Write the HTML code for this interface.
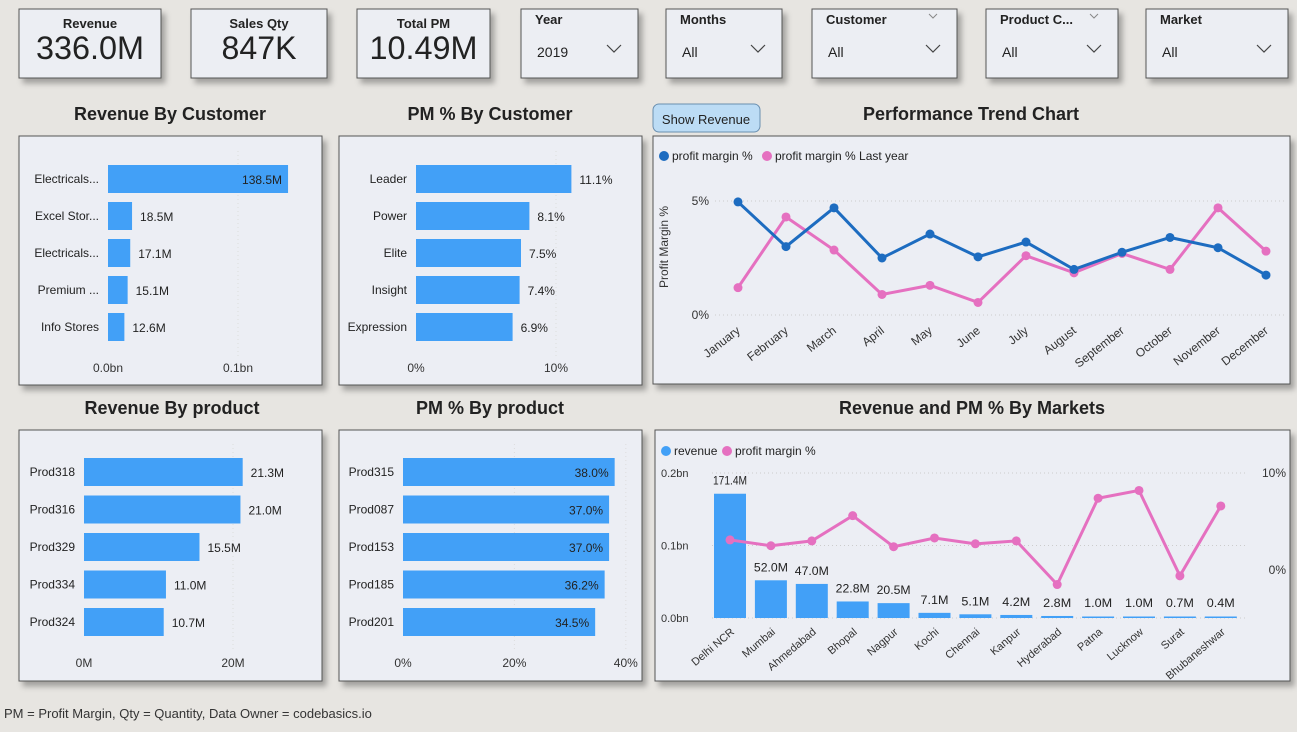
<!DOCTYPE html>
<html><head><meta charset="utf-8"><style>
html,body{margin:0;padding:0;width:1297px;height:732px;overflow:hidden;background:#e7e5e1;font-family:"Liberation Sans",sans-serif;}
svg text{font-family:"Liberation Sans",sans-serif;}
</style></head><body>
<svg id="s" width="1297" height="732" viewBox="0 0 1297 732" xmlns="http://www.w3.org/2000/svg">
<defs><filter id="sh" x="-10%" y="-10%" width="130%" height="130%"><feDropShadow dx="4" dy="5" stdDeviation="3" flood-color="#000" flood-opacity="0.3"/></filter></defs>
<g id="cards"></g>
<g id="panels"></g>
<text x="4" y="718" font-size="13" fill="#333">PM = Profit Margin, Qty = Quantity, Data Owner = codebasics.io</text>
</svg>
<script>
const NS='http://www.w3.org/2000/svg';
const S=document.getElementById('s');
function el(t,a,p,txt){const e=document.createElementNS(NS,t);for(const k in a)e.setAttribute(k,a[k]);if(txt!==undefined)e.textContent=txt;(p||S).appendChild(e);return e;}

// KPI cards
const kpiTitles=['Revenue','Sales Qty','Total PM'];
const kpiValues=['336.0M','847K','10.49M'];
const kpiX=[19,191,357],kpiW=[142,136,133];
kpiTitles.forEach((t,i)=>{
 const g=el('g',{});
 
 
 el('rect',{x:kpiX[i],y:9,width:kpiW[i],height:69,fill:'#eceef3',stroke:'#555',filter:'url(#sh)'},g);
 el('text',{x:kpiX[i]+kpiW[i]/2,y:28,'text-anchor':'middle','font-size':13,'font-weight':'bold',fill:'#222'},g,t);
 el('text',{x:kpiX[i]+kpiW[i]/2,y:59,'text-anchor':'middle','font-size':32,fill:'#222',textLength:kpiValues[i].length>5?108:75,lengthAdjust:'spacingAndGlyphs'},g,kpiValues[i]);
});
// slicers
const slTitles=['Year','Months','Customer','Product C...','Market'];
const slVals=['2019','All','All','All','All'];
const slX=[521,666,812,986,1146],slW=[117,116,145,132,142];
slTitles.forEach((t,i)=>{
 const g=el('g',{});
 
 
 el('rect',{x:slX[i],y:9,width:slW[i],height:69,fill:'#eceef3',stroke:'#555',filter:'url(#sh)'},g);
 el('text',{x:slX[i]+14,y:24,'font-size':13,'font-weight':'bold',fill:'#222'},g,t);
 el('text',{x:slX[i]+16,y:57,'font-size':14,fill:'#222'},g,slVals[i]);
 const cx=slX[i]+slW[i]-24;
 el('polyline',{points:`${cx-7},45 ${cx},52 ${cx+7},45`,fill:'none',stroke:'#444','stroke-width':1.2},g);
 if(i==2||i==3){el('polyline',{points:`${cx-4},14 ${cx},18 ${cx+4},14`,fill:'none',stroke:'#888','stroke-width':1},g);}
});
// show revenue button
const btn=el('g',{});


el('rect',{x:653,y:104,width:107,height:28,rx:6,fill:'#bcdcf5',stroke:'#6a8fb0'},btn);
el('text',{x:706,y:124,'text-anchor':'middle','font-size':13,fill:'#222'},btn,'Show Revenue');

// panels
function panel(name,title,tx,x,y,w,h){
 const g=el('g',{});
 
 
 const tt=el('text',{x:tx,y:y-16,'text-anchor':'middle','font-size':18,'font-weight':'bold',fill:'#222'},g,title);
 
 
 el('rect',{x:x,y:y,width:w,height:h,fill:'#eceef4',stroke:'#555',filter:'url(#sh)'},g);
 return g;
}

// ---- Revenue by customer ----
const custNames=['Electricals...','Excel Stor...','Electricals...','Premium ...','Info Stores'];
const custRev=[138.5,18.5,17.1,15.1,12.6];
const custRevLabels=['138.5M','18.5M','17.1M','15.1M','12.6M'];
const custTicks=[0,100];const custTickLabels=['0.0bn','0.1bn'];
// ---- PM by customer ----
const pmCustNames=['Leader','Power','Elite','Insight','Expression'];
const pmCust=[11.1,8.1,7.5,7.4,6.9];
const pmCustTicks=[0,10];const pmCustTickLabels=['0%','10%'];
// ---- Revenue by product ----
const prodNames=['Prod318','Prod316','Prod329','Prod334','Prod324'];
const prodRev=[21.3,21.0,15.5,11.0,10.7];
const prodTicks=[0,20];const prodTickLabels=['0M','20M'];
// ---- PM by product ----
const pmProdNames=['Prod315','Prod087','Prod153','Prod185','Prod201'];
const pmProd=[38.0,37.0,37.0,36.2,34.5];
const pmProdTicks=[0,20,40];const pmProdTickLabels=['0%','20%','40%'];

function hbar(g,name,cats,vals,labels,x0,pxPer,y0,step,bh,ticks,tickLabels,tickY,mode,limit){
 ticks.forEach((t,i)=>{
  const x=x0+t*pxPer;
  if(i>0)el('line',{x1:x,x2:x,y1:y0-bh,y2:tickY-15,stroke:'#ddd','stroke-dasharray':'1,3'},g);
  const tl=el('text',{x:x,y:tickY,'text-anchor':'middle','font-size':12,fill:'#333'},g,tickLabels[i]);
  
  
 });
 cats.forEach((c,i)=>{
  const cy=y0+i*step;
  const w=vals[i]*pxPer;
  const cl=el('text',{x:x0-9,y:cy+4,'text-anchor':'end','font-size':12,fill:'#222'},g,c);
  
  
  const b=el('rect',{x:x0,y:cy-bh/2,width:w,height:bh,fill:'#42a0f7'},g);
  
  
  const inl=mode==='inside'||(x0+w+50>limit);
  const vl=el('text',{x:inl?x0+w-6:x0+w+8,y:cy+5,'text-anchor':inl?'end':'start','font-size':12,fill:'#222'},g,labels[i]);
  
  
 });
}
let g=panel('revenue-by-customer-chart','Revenue By Customer',170,19,136,303,249);
hbar(g,'revenue-customer',custNames,custRev,custRevLabels,108,1.3,179,37,28,custTicks,custTickLabels,372,'auto',322);
g=panel('pm-by-customer-chart','PM % By Customer',490,339,136,303,249);
hbar(g,'pm-customer',pmCustNames,pmCust,pmCust.map(v=>v.toFixed(1)+'%'),416,14,179,37,28,pmCustTicks,pmCustTickLabels,372,'auto',642);
g=panel('revenue-by-product-chart','Revenue By product',172,19,430,303,251);
hbar(g,'revenue-product',prodNames,prodRev,prodRev.map(v=>v.toFixed(1)+'M'),84,7.45,472,37.5,28,prodTicks,prodTickLabels,667,'auto',322);
g=panel('pm-by-product-chart','PM % By product',490,339,430,303,251);
hbar(g,'pm-product',pmProdNames,pmProd,pmProd.map(v=>v.toFixed(1)+'%'),403,5.57,472,37.5,28,pmProdTicks,pmProdTickLabels,667,'inside',642);

// ---- Performance trend ----
const months=['January','February','March','April','May','June','July','August','September','October','November','December'];
const pmThisYear=[4.96,3.0,4.7,2.5,3.55,2.55,3.2,2.0,2.75,3.4,2.95,1.75];
const pmLastYear=[1.2,4.3,2.85,0.9,1.3,0.55,2.6,1.85,2.7,2.0,4.7,2.8];
const trendTicks=[0,5];const trendTickLabels=['0%','5%'];
g=panel('performance-trend-chart','Performance Trend Chart',971,653,136,637,248);
{
 const tx=i=>738+i*48, ty=v=>315-v*22.8;
 trendTicks.forEach((t,i)=>{
  el('line',{x1:715,x2:1285,y1:ty(t),y2:ty(t),stroke:'#ccc','stroke-dasharray':'1,3'},g);
  const tl=el('text',{x:709,y:ty(t)+4,'text-anchor':'end','font-size':12,fill:'#333'},g,trendTickLabels[i]);
  
  
 });
 const yt=el('text',{x:0,y:0,transform:'translate(668,247) rotate(-90)','text-anchor':'middle','font-size':12,fill:'#333'},g,'Profit Margin %');
 
 
 months.forEach((m,i)=>{
  const t=el('text',{x:0,y:0,transform:`translate(${tx(i)+3},${332}) rotate(-38)`,'text-anchor':'end','font-size':12,fill:'#333'},g,m);
  
  
 });
 [[pmLastYear,'#e570c0','pm-last-year'],[pmThisYear,'#1d6cc0','pm-this-year']].forEach(([d,c,n])=>{
  const ln=el('polyline',{points:d.map((v,i)=>tx(i)+','+ty(v)).join(' '),fill:'none',stroke:c,'stroke-width':3},g);
  
  
  d.forEach((v,i)=>{const p=el('circle',{cx:tx(i),cy:ty(v),r:4.5,fill:c},g);
   
   });
 });
 const l1=el('g',{},g);
 el('circle',{cx:664,cy:156,r:5,fill:'#1d6cc0'},l1);el('text',{x:672,y:160,'font-size':12,fill:'#222'},l1,'profit margin %');
 const l2=el('g',{},g);
 el('circle',{cx:767,cy:156,r:5,fill:'#e570c0'},l2);el('text',{x:775,y:160,'font-size':12,fill:'#222'},l2,'profit margin % Last year');
}

// ---- Revenue & PM by markets ----
const markets=['Delhi NCR','Mumbai','Ahmedabad','Bhopal','Nagpur','Kochi','Chennai','Kanpur','Hyderabad','Patna','Lucknow','Surat','Bhubaneshwar'];
const marketRev=[171.4,52.0,47.0,22.8,20.5,7.1,5.1,4.2,2.8,1.0,1.0,0.7,0.4];
const marketPM=[3.1,2.5,3.0,5.6,2.4,3.3,2.7,3.0,-1.5,7.4,8.2,-0.6,6.6];
const revTicks=[0,100,200];const revTickLabels=['0.0bn','0.1bn','0.2bn'];
const pmTicks=[0,10];const pmTickLabels=['0%','10%'];
g=panel('revenue-pm-by-markets-chart','Revenue and PM % By Markets',972,655,430,635,251);
{
 const mx=i=>730+i*40.9, ry=v=>618-v*0.725, py=v=>570-v*9.7;
 revTicks.forEach((t,i)=>{
  el('line',{x1:712,x2:1245,y1:ry(t),y2:ry(t),stroke:'#ccc','stroke-dasharray':'1,3'},g);
  const tl=el('text',{x:661,y:ry(t)+4,'font-size':11,fill:'#333'},g,revTickLabels[i]);
  
  
 });
 pmTicks.forEach((t,i)=>{
  const tl=el('text',{x:1286,y:py(t)+4,'text-anchor':'end','font-size':12,fill:'#333'},g,pmTickLabels[i]);
  
  
 });
 markets.forEach((m,i)=>{
  const h=Math.max(marketRev[i]*0.725,1.5);
  const b=el('rect',{x:mx(i)-16,y:618-h,width:32,height:h,fill:'#42a0f7'},g);
  
  
  const vl=el('text',{x:mx(i),y:Math.min(618-h-9,607),'text-anchor':'middle','font-size':12,fill:'#222',textLength:marketRev[i]>=10?34:28,lengthAdjust:'spacingAndGlyphs'},g,marketRev[i].toFixed(1)+'M');
  
  
  const t=el('text',{x:0,y:0,transform:`translate(${mx(i)+5},${633}) rotate(-40)`,'text-anchor':'end','font-size':11,fill:'#333'},g,m);
  
  
 });
 const ln=el('polyline',{points:marketPM.map((v,i)=>mx(i)+','+py(v)).join(' '),fill:'none',stroke:'#e570c0','stroke-width':3},g);
 
 
 marketPM.forEach((v,i)=>{const p=el('circle',{cx:mx(i),cy:py(v),r:4.5,fill:'#e570c0'},g);
  
  });
 const l1=el('g',{},g);
 el('circle',{cx:666,cy:451,r:5,fill:'#42a0f7'},l1);el('text',{x:674,y:455,'font-size':12,fill:'#222'},l1,'revenue');
 const l2=el('g',{},g);
 el('circle',{cx:727,cy:451,r:5,fill:'#e570c0'},l2);el('text',{x:735,y:455,'font-size':12,fill:'#222'},l2,'profit margin %');
}
</script>
</body></html>
